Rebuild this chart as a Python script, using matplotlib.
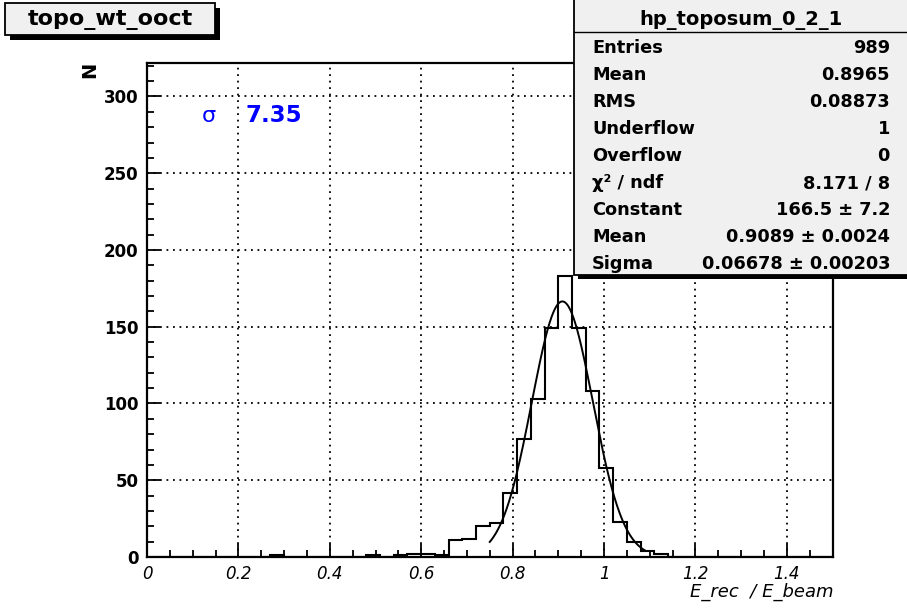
import numpy as np
import matplotlib
matplotlib.use('Agg')
import matplotlib.pyplot as plt
from matplotlib.patches import Rectangle
from matplotlib.lines import Line2D
from matplotlib.ticker import MultipleLocator, FuncFormatter

# ---------------- data ----------------
bin_low = 0.0
bin_width = 0.03
counts = [0, 0, 0, 0, 0, 0, 0, 0, 0, 1,
          0, 0, 0, 0, 0, 0, 1, 0, 1, 2,
          2, 1, 11, 12, 20, 22, 42, 77, 103, 149,
          183, 149, 108, 58, 23, 10, 4, 2, 0, 0,
          0, 0, 0, 0, 0, 0, 0, 0, 0, 0]
fit_constant = 166.5
fit_mean = 0.9089
fit_sigma = 0.06678
fit_range = (0.75, 1.09)

hist_title = 'topo_wt_ooct'
stats_title = 'hp_toposum_0_2_1'
stats_labels = ['Entries', 'Mean', 'RMS', 'Underflow', 'Overflow',
                'χ² / ndf', 'Constant', 'Mean', 'Sigma']
stats_values = ['989', '0.8965', '0.08873', '1', '0', '8.171 / 8',
                '166.5 ± 7.2', '0.9089 ± 0.0024', '0.06678 ± 0.00203']
sigma_symbol = 'σ'
sigma_value = '7.35'
x_label = 'E_rec  / E_beam'
y_label = 'N'
x_limits = (0.0, 1.5)
y_limits = (0.0, 321.8)

# ---------------- figure ----------------
W, H = 907, 610
fig = plt.figure(figsize=(W / 100, H / 100), dpi=100)
fig.patch.set_facecolor('white')


def fx(px):
    return px / W


def fy(py):
    return 1 - py / H


ax = fig.add_axes([fx(147), fy(557), (832.5 - 147) / W, (557 - 63) / H])
ax.set_xlim(*x_limits)
ax.set_ylim(*y_limits)

edges = bin_low + bin_width * np.arange(len(counts) + 1)
ax.stairs(counts, edges, color='black', lw=1.5, baseline=0, zorder=3)

xf = np.linspace(fit_range[0], fit_range[1], 300)
yf = fit_constant * np.exp(-0.5 * ((xf - fit_mean) / fit_sigma) ** 2)
ax.plot(xf, yf, color='black', lw=1.4, zorder=4)

ax.xaxis.set_major_locator(MultipleLocator(0.2))
ax.xaxis.set_minor_locator(MultipleLocator(0.05))
ax.yaxis.set_major_locator(MultipleLocator(50))
ax.yaxis.set_minor_locator(MultipleLocator(10))
ax.xaxis.set_major_formatter(FuncFormatter(lambda v, p: '%g' % round(v, 6)))
ax.yaxis.set_major_formatter(FuncFormatter(lambda v, p: '%g' % round(v, 6)))

ax.grid(True, which='major', color='black', lw=1.3, ls=(0, (1, 2.6)))
ax.tick_params(which='major', direction='in', length=9.5, width=1.3,
               top=False, right=False)
ax.tick_params(which='minor', direction='in', length=5, width=1.3,
               top=False, right=False)
ax.tick_params(axis='x', which='major', labelsize=12, pad=6)
ax.tick_params(axis='y', which='major', labelsize=12, pad=6)
for s in ax.spines.values():
    s.set_linewidth(1.6)
for lbl in ax.get_xticklabels():
    lbl.set_fontstyle('italic')
for lbl in ax.get_yticklabels():
    lbl.set_fontweight('bold')

# axis labels
fig.text(fx(833), fy(597), x_label, ha='right', va='baseline',
         fontstyle='italic', fontsize=13)
fig.text(fx(90), fy(70), y_label, rotation=90, ha='center', va='center',
         fontweight='bold', fontsize=14)

# sigma annotation
fig.text(fx(202), fy(122), sigma_symbol, color='blue', fontsize=16,
         ha='left', va='baseline')
fig.text(fx(245), fy(122), sigma_value, color='blue', fontsize=16.5,
         fontweight='bold', ha='left', va='baseline')

# title box
fig.add_artist(Rectangle((fx(10), fy(40)), (215 - 5) / W, (40 - 8) / H,
                         transform=fig.transFigure, facecolor='black',
                         edgecolor='none', zorder=5))
fig.add_artist(Rectangle((fx(5), fy(35)), (215 - 5) / W, (35 - 3) / H,
                         transform=fig.transFigure, facecolor='#f0f0f0',
                         edgecolor='black', lw=1.3, zorder=6))
fig.text(fx(110), fy(19.5), hist_title, ha='center', va='center',
         fontweight='bold', fontsize=16, zorder=7)

# stats box
fig.add_artist(Rectangle((fx(578), fy(279)), (910 - 578) / W, 4 / H,
                         transform=fig.transFigure, facecolor='black',
                         edgecolor='none', zorder=5))
fig.add_artist(Rectangle((fx(574), fy(275)), (910 - 574) / W, (275 + 2) / H,
                         transform=fig.transFigure, facecolor='#f0f0f0',
                         edgecolor='black', lw=1.3, zorder=6))
fig.add_artist(Line2D([fx(574), fx(907)], [fy(31.7), fy(31.7)],
                      transform=fig.transFigure, color='black', lw=1.0,
                      zorder=7))
fig.text(fx(741), fy(25), stats_title, ha='center', va='baseline',
         fontweight='bold', fontsize=14, zorder=8)
for i, (lab, val) in enumerate(zip(stats_labels, stats_values)):
    yb = 53.3 + 27.0 * i
    fig.text(fx(592), fy(yb), lab, ha='left', va='baseline',
             fontweight='bold', fontsize=12.75, zorder=8)
    fig.text(fx(890), fy(yb), val, ha='right', va='baseline',
             fontweight='bold', fontsize=12.75, zorder=8)

fig.savefig('out.png', dpi=100, facecolor='white')
